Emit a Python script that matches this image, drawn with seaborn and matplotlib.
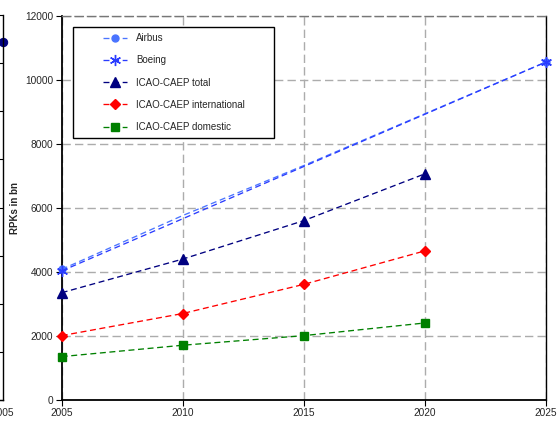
import matplotlib
matplotlib.use("Agg")
import matplotlib.pyplot as plt
import seaborn as sns
from matplotlib.legend_handler import HandlerLine2D

# ---- data ----
icao_years = [2005, 2010, 2015, 2020]
icao_total = [3350, 4400, 5600, 7060]
icao_international = [2010, 2700, 3610, 4655]
icao_domestic = [1355, 1710, 2010, 2405]
airbus_years = [2005, 2010, 2015, 2025]
airbus_rpk = [4080, 5760, 7320, 10550]
boeing_years = [2005, 2025]
boeing_rpk = [4030, 10550]
x_ticks = [2005, 2010, 2015, 2020, 2025]
y_ticks = [0, 2000, 4000, 6000, 8000, 10000, 12000]
# fragment of a neighbouring chart visible on the left edge
left_years = [2005]
left_values = [14880]
left_y_ticks = [0, 2000, 4000, 6000, 8000, 10000, 12000, 14000, 16000]

sns.set_style("white")
plt.rcParams["font.family"] = ["Liberation Sans", "DejaVu Sans"]
plt.rcParams["lines.scale_dashes"] = False

W, H = 558, 426
fig = plt.figure(figsize=(W / 100, H / 100), dpi=100)

ax_l, ax_r, ax_t, ax_b = 61.7, 545.7, 15.7, 400.0
ax = fig.add_axes([ax_l / W, 1 - ax_b / H, (ax_r - ax_l) / W, (ax_b - ax_t) / H])

dash = (0, (4.3, 2.6))
series = [
    ("Airbus", airbus_years, airbus_rpk, "#4a74ff", "o", 5, [0, 3], 3),
    ("Boeing", boeing_years, boeing_rpk, "#2a3cff", (6, 2, 0), 8, None, 4),
    ("ICAO-CAEP total", icao_years, icao_total, "#000080", "^", 7, None, 3),
    ("ICAO-CAEP international", icao_years, icao_international, "#ff0000", "D", 5, None, 3),
    ("ICAO-CAEP domestic", icao_years, icao_domestic, "#008000", "s", 6, None, 3),
]
for label, xs, ys, col, mk, ms, mev, z in series:
    sns.lineplot(x=xs, y=ys, ax=ax, color=col, marker=mk, markersize=ms,
                 markeredgecolor=col, markerfacecolor=col, markeredgewidth=1.0,
                 linestyle=dash, linewidth=0.95, label=label, markevery=mev,
                 clip_on=False, zorder=z)

ax.set_xlim(2005, 2025)
ax.set_ylim(0, 12000)
ax.set_xticks(x_ticks)
ax.set_yticks(y_ticks)
ax.set_xticklabels([str(v) for v in x_ticks])
ax.set_yticklabels([str(v) for v in y_ticks])
ax.tick_params(axis="both", direction="out", length=4, width=0.8, color="black",
               labelsize=7.3, pad=2, left=True, bottom=True)
ax.grid(True, color="#acacac", linestyle=(0, (6, 3)), linewidth=1.0)
ax.set_axisbelow(True)
for s in ["left", "bottom", "right"]:
    ax.spines[s].set_visible(True)
    ax.spines[s].set_color("black")
    ax.spines[s].set_linewidth(1.0)
ax.spines["left"].set_linewidth(1.3)
ax.spines["bottom"].set_linewidth(1.3)
ax.spines["top"].set_visible(True)
ax.spines["top"].set_color("#777777")
ax.spines["top"].set_linestyle((0, (6, 3)))
ax.spines["top"].set_linewidth(1.0)
ax.set_xlabel("")
ax.set_ylabel("RPKs in bn", fontsize=7, fontweight="bold", labelpad=4)


class ShiftHandler(HandlerLine2D):
    def __init__(self, shift, **kw):
        super().__init__(**kw)
        self.shift = shift

    def create_artists(self, legend, orig_handle, xdescent, ydescent, width,
                       height, fontsize, trans):
        return super().create_artists(legend, orig_handle, xdescent - self.shift,
                                      ydescent, width - self.shift, height,
                                      fontsize, trans)


handles = ax.get_lines()[:len(series)]
labels = [s[0] for s in series]
leg_l, leg_r, leg_t = 73, 274, 27
lx = (leg_l - ax_l) / (ax_r - ax_l)
lw_ = (leg_r - leg_l) / (ax_r - ax_l)
ly = (ax_b - leg_t) / (ax_b - ax_t)
leg = ax.legend(handles, labels, loc="upper left",
                bbox_to_anchor=(lx, 0.0, lw_, ly), mode="expand",
                borderaxespad=0, fontsize=7, frameon=True, fancybox=False,
                framealpha=1, edgecolor="black", numpoints=1,
                handlelength=4.9, handletextpad=1.0, labelspacing=1.26,
                borderpad=0.62,
                handler_map={h: ShiftHandler(17.3) for h in handles})
leg.get_frame().set_linewidth(1.0)

# ---- fragment of the neighbouring chart at the left edge ----
axf = fig.add_axes([-200 / W, 1 - ax_b / H, 203 / W, (ax_b - 15.0) / H])
axf.patch.set_alpha(0)
sns.lineplot(x=left_years, y=left_values, ax=axf, color="#000080", marker="o",
             markersize=6, markeredgecolor="#000080", clip_on=False)
axf.set_xlim(1990, 2005)
axf.set_ylim(0, 16000)
axf.set_xticks([2005])
axf.set_xticklabels(["2005"])
axf.set_yticks(left_y_ticks)
axf.yaxis.tick_right()
axf.tick_params(axis="y", direction="in", length=3, width=0.8, labelright=False,
                right=True, color="black")
axf.tick_params(axis="x", length=4, labelsize=7.3, pad=2, bottom=False)
for s in ["top", "left"]:
    axf.spines[s].set_visible(False)
for s in ["right", "bottom"]:
    axf.spines[s].set_visible(True)
    axf.spines[s].set_color("black")
    axf.spines[s].set_linewidth(1.0)
axf.set_xlabel("")
axf.set_ylabel("")
axf.grid(False)

fig.savefig("out.png", dpi=100)
